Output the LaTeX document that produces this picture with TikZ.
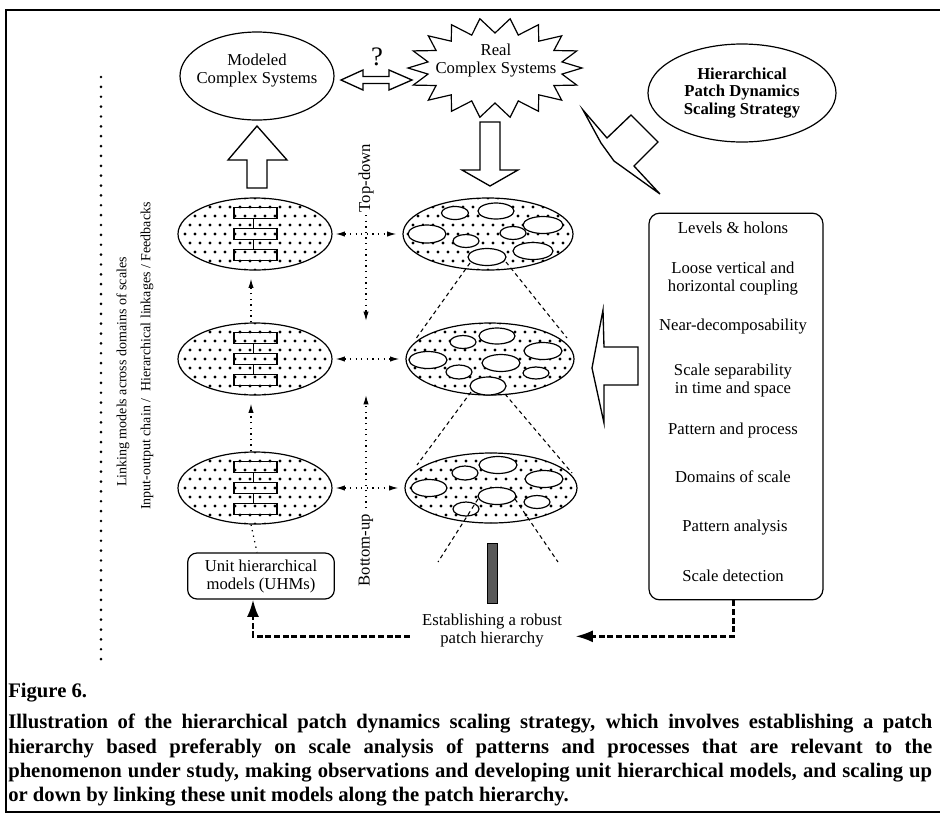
\documentclass[tikz,border=0pt]{standalone}
\usepackage{fontspec}
\setmainfont{Liberation Serif}
\usetikzlibrary{shapes.geometric,arrows.meta,calc}
\tikzset{
  lbl/.style={font=\fontsize{12.5}{13.5}\selectfont, align=center, inner sep=0pt},
  sidelbl/.style={font=\fontsize{10.5}{12}\selectfont, inner sep=0pt, rotate=90},
  ell/.style 2 args={ellipse, draw, line width=0.9pt, minimum width=#1*0.75pt, minimum height=#2*0.75pt, inner sep=0pt},
  dotfill/.style={path picture={
    \foreach \j in {-4,...,4}{
      \foreach \i in {-10,...,10}{
        \pgfmathsetmacro{\xo}{\i*10+mod(abs(\j),2)*5}
        \fill ($(path picture bounding box.center)+(\xo,\j*9)$) circle[radius=1.25pt];
      }}}},
  hollow/.style={draw, line width=1pt, fill=white, line join=miter},
  dotline/.style={line width=0.9pt, dash pattern=on 1pt off 3.2pt},
  smalltip/.style={-{Latex[length=7pt,width=4pt]}},
  bothtips/.style={{Latex[length=7pt,width=4pt]}-{Latex[length=7pt,width=4pt]}},
  thickdash/.style={line width=1.8pt, dash pattern=on 4.5pt off 2pt},
  projdash/.style={line width=0.8pt, dash pattern=on 3pt off 2.5pt},
  bigdots/.style={line width=2.2pt, line cap=round, dash pattern=on 0pt off 7.4pt},
  patch/.style={draw, line width=0.9pt, fill=white},
  frameline/.style={line width=1.3pt},
  bigtip/.style={-{Latex[length=13pt,width=9pt]}}
}
\begin{document}
\begin{tikzpicture}[x=0.75pt,y=-0.75pt]
\useasboundingbox (0,0) rectangle (940,819);
% frame
\draw[frameline] (940,10) -- (6,10) -- (6,812) -- (940,812);

% left dotted line and rotated labels
\coordinate (dtop) at (101,77);
\coordinate (dbot) at (101,665);
\draw[bigdots] (dtop) -- (dbot);
\node[sidelbl] (link) at (123,372) {Linking models across domains of scales};
\node[sidelbl] (iochain) at (147,356) {Input-output chain / \ Hierarchical linkages / Feedbacks};

% Modeled complex systems
\node[ell={154}{88}] (mod) at (257,76) {};
\node[lbl] (modt) at (257,71) {Modeled\\Complex Systems};

% Real complex systems (star)
\coordinate (realc) at (495,68);
\draw[line width=0.9pt, line join=miter] ($(realc)+(87,0)$)
  \foreach \j in {0,...,17}{
    -- ($(realc)+({68*cos(20*\j+10)},{35*sin(20*\j+10)})$)
    -- ($(realc)+({87*cos(20*\j+20)},{50*sin(20*\j+20)})$)
  } -- cycle;
\node[lbl] (real) at (496,61) {Real\\Complex Systems};

% double hollow arrow and question mark
\draw[hollow] (341,80) -- (363,70) -- (363,76.5) -- (389,76.5) -- (389,70) -- (412,80)
  -- (389,90) -- (389,83.5) -- (363,83.5) -- (363,90) -- cycle;
\node[font=\fontsize{20}{20}\selectfont, inner sep=0pt] (q) at (377,57) {?};

% Hierarchical patch dynamics ellipse
\node[ell={188}{98}, font=\bfseries\fontsize{12.5}{12.8}\selectfont, align=center] (hpd) at (742,93) {Hierarchical\\Patch Dynamics\\Scaling Strategy};

% lightning arrow
\draw[hollow] (583,110) -- (607,138) -- (631,115) -- (658,142) -- (634,166) -- (660,194)
  -- (614,161) -- (601,143) -- cycle;

% big hollow up arrow (left)
\draw[hollow] (247,188) -- (247,160) -- (228,160) -- (257,126) -- (287,160) -- (267,160) -- (267,188) -- cycle;
% big hollow down arrow (right)
\draw[hollow] (480,122) -- (480,170) -- (462,170) -- (490,186) -- (518,170) -- (500,170) -- (500,122) -- cycle;
% big hollow left arrow
\draw[hollow] (638,347) -- (604,347) -- (603,310) -- (592,368) -- (604,423) -- (604,385) -- (638,385) -- cycle;

% left column ellipses with unit models
\foreach \n/\y in {L1/234, L2/359, L3/488}{
  \node[ell={154}{72}, dotfill] (\n) at (255,\y) {};
  \draw[line width=0.9pt] (234,{\y-26.5}) rectangle (277,{\y-15.5});
  \draw[line width=0.9pt] (234,{\y-5.5}) rectangle (277,{\y+5.5});
  \draw[line width=0.9pt] (234,{\y+15.5}) rectangle (277,{\y+26.5});
  \draw[line width=0.7pt] (253,{\y-15.5}) -- (253,{\y-5.5});
  \draw[line width=0.7pt] (253,{\y+5.5}) -- (253,{\y+15.5});
}

% right column ellipses (patch hierarchy)
\node[ell={170}{72}, dotfill] (R1) at (488,234) {};
\node[ell={168}{72}, dotfill] (R2) at (490,359) {};
\node[ell={172}{70}, dotfill] (R3) at (491,488) {};

% patches R1
\foreach \px/\py/\rx/\ry in {455/213/13.5/6.5, 496/211/18/8, 543/225/20/8.5, 427/234/19/9,
  466/241/13/6.5, 513/233/13/6.5, 533/251/20/8.5, 487/257/19/8.5}{
  \draw[patch] (\px,\py) ellipse [x radius=\rx*0.75pt, y radius=\ry*0.75pt];
}
% patches R2
\foreach \px/\py/\rx/\ry in {463/342/13/6.5, 497/336/18/8, 543/351/19/8.5, 428/360/19/8.5,
  459/372/13/7, 501/363/19/8.5, 536/373/13/6, 488/386/18/9}{
  \draw[patch] (\px,\py) ellipse [x radius=\rx*0.75pt, y radius=\ry*0.75pt];
}
% patches R3
\foreach \px/\py/\rx/\ry in {465/473/13/7, 498/465/19/8.5, 544/479/19/8.5, 429/488/18/8.5,
  497/496/19/8.5, 537/502/13/6.5, 466/509/13/7}{
  \draw[patch] (\px,\py) ellipse [x radius=\rx*0.75pt, y radius=\ry*0.75pt];
}

% projection lines between levels
\draw[projdash] (470,263) -- (415,340);
\draw[projdash] (506,262) -- (567,338);
\draw[projdash] (471,392) -- (417,465);
\draw[projdash] (505,394) -- (572,473);
\draw[projdash] (478,499) -- (438,562);
\draw[projdash] (515,499) -- (558,562);

% horizontal dotted double arrows
\draw[dotline, bothtips] ($(L1.east)+(3,0)$) -- ($(L1.east -| R1.west)+(-6,0)$);
\draw[dotline, bothtips] ($(L2.east)+(3,0)$) -- ($(L2.east -| R2.west)+(-6,0)$);
\draw[dotline, bothtips] ($(L3.east)+(3,0)$) -- ($(L3.east -| R3.west)+(-6,0)$);

% top-down / bottom-up
\node[lbl, rotate=90] (td) at (366,178) {Top-down};
\coordinate (tdend) at (366,321);
\draw[dotline, smalltip, shorten <=2pt] (td.west) -- (tdend);
\node[lbl, rotate=90] (bu) at (366,550) {Bottom-up};
\coordinate (buend) at (366,395);
\draw[dotline, smalltip, shorten <=4pt] (bu.east) -- (buend);

% vertical dotted arrows left column
\draw[dotline, smalltip, shorten >=6pt] ([xshift=-3pt]L2.north) -- ([xshift=-3pt]L1.south);
\draw[dotline, smalltip, shorten >=6pt] ([xshift=-3pt]L3.north) -- ([xshift=-3pt]L2.south);

% UHM box
\node[draw, rounded corners=7pt, line width=0.9pt, minimum width=110pt, minimum height=34.5pt, lbl] (uhm) at (261,576) {Unit hierarchical\\models (UHMs)};
\draw[dotline] ([xshift=-3pt]L3.south) -- ([xshift=-3pt]uhm.north);

% right text box
\node[draw, rounded corners=8pt, line width=0.9pt, minimum width=130.5pt, minimum height=290pt] (box) at (736,406.5) {};
\node[lbl] (t1) at (733,228) {Levels \& holons};
\node[lbl] (t2) at (733,279) {Loose vertical and\\horizontal coupling};
\node[lbl] (t3) at (733,327) {Near-decomposability};
\node[lbl] (t4) at (733,380) {Scale separability\\in time and space};
\node[lbl] (t5) at (733,430) {Pattern and process};
\node[lbl] (t6) at (733,477) {Domains of scale};
\node[lbl] (t7) at (735,528) {Pattern analysis};
\node[lbl] (t8) at (733,576) {Scale detection};

% gray bar and establishing text
\node[draw, fill=black!65, line width=0.6pt, minimum width=7.5pt, minimum height=45pt, inner sep=0pt] (bar) at (492,573) {};
\node[lbl] (est) at (492,631) {Establishing a robust\\patch hierarchy};

% thick dashed arrows
\draw[thickdash, bigtip] ([xshift=-9pt,yshift=-4pt]est.west) -| ([xshift=-6pt]uhm.south);
\draw[thickdash, bigtip] ([xshift=-2pt]box.south) |- ([xshift=10pt,yshift=-4pt]est.east);

% caption
\node[anchor=base west, inner sep=0pt, font=\bfseries\fontsize{15.5}{18.5}\selectfont] (fig) at (8,697) {Figure 6.};
\node[anchor=north west, inner sep=0pt, text width=693pt, align=justify, font=\bfseries\fontsize{15.5}{18.2}\selectfont] (cap) at (8,714)
{Illustration of the hierarchical patch dynamics scaling strategy, which involves establishing a patch\linebreak
hierarchy based preferably on scale analysis of patterns and processes that are relevant to the\linebreak
phenomenon under study, making observations and developing unit hierarchical models, and scaling up\linebreak
or down by linking these unit models along the patch hierarchy.};
\end{tikzpicture}
\end{document}
